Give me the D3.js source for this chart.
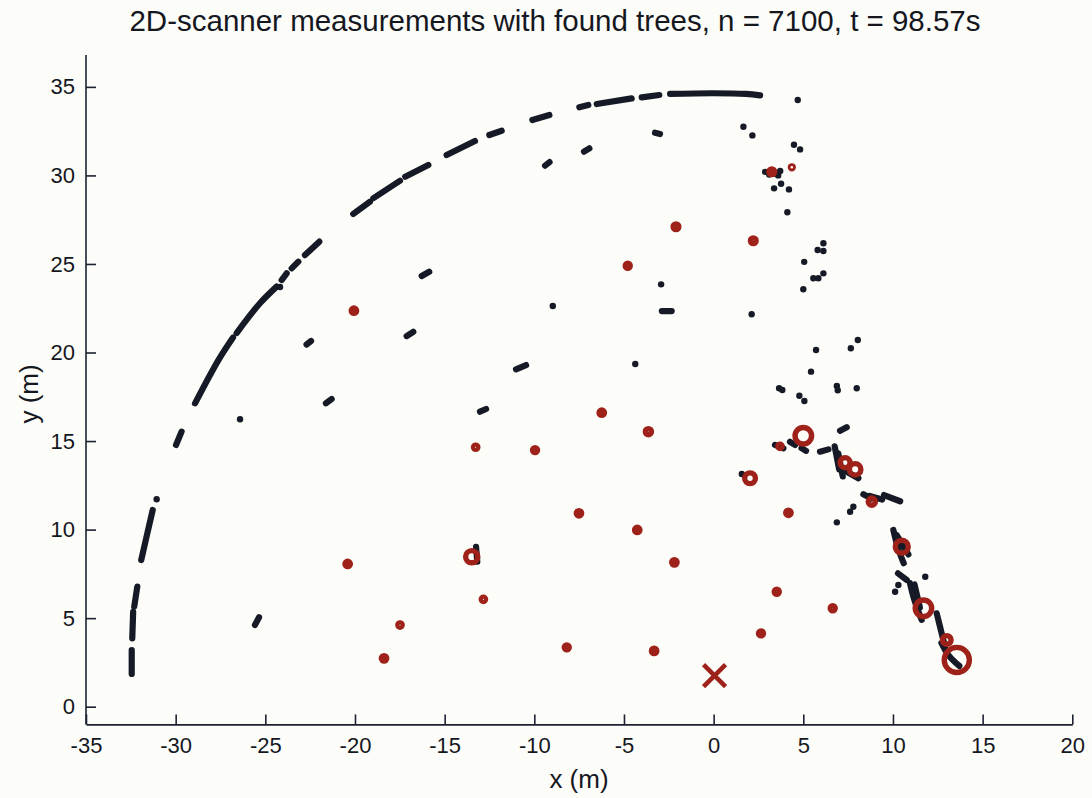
<!DOCTYPE html>
<html>
<head>
<meta charset="utf-8">
<script src="https://cdn.jsdelivr.net/npm/d3@7"></script>
<style>
  html, body { margin: 0; padding: 0; background: #fcfcf8; }
  svg { display: block; }
  text { font-family: "Liberation Sans", Arial, Helvetica, sans-serif; fill: #15171f; }
</style>
</head>
<body>
<svg id="chart" width="1092" height="798"></svg>
<script>
// ---------------- data (metres) ----------------
const titleText = "2D-scanner measurements with found trees, n = 7100, t = 98.57s";
const xLabel = "x (m)";
const yLabel = "y (m)";
const xTicks = [-35, -30, -25, -20, -15, -10, -5, 0, 5, 10, 15, 20];
const yTicks = [0, 5, 10, 15, 20, 25, 30, 35];

// dense runs of scan points (each run = consecutive measurements)
const scanRuns = [
  [[-32.45, 1.85], [-32.45, 3.2]],
  [[-32.42, 3.86], [-32.37, 5.36]],
  [[-32.31, 5.65], [-32.14, 6.78]],
  [[-31.92, 8.28], [-31.6, 9.7], [-31.28, 11.11]],
  [[-29.98, 14.78], [-29.67, 15.53]],
  [[-28.92, 17.13], [-27.6, 19.6], [-26.8, 20.85]],
  [[-26.6, 21.1], [-25.3, 22.78], [-24.37, 23.72]],
  [[-24.09, 24.09], [-23.81, 24.47]],
  [[-23.53, 24.75], [-23.16, 25.13]],
  [[-22.79, 25.5], [-21.99, 26.26]],
  [[-20.1, 27.82], [-19.17, 28.51]],
  [[-18.98, 28.71], [-17.49, 29.7]],
  [[-17.2, 29.93], [-15.91, 30.59]],
  [[-14.89, 31.15], [-13.31, 31.94]],
  [[-12.51, 32.28], [-11.82, 32.52]],
  [[-10.11, 33.13], [-9.16, 33.41]],
  [[-7.49, 33.85], [-6.99, 33.98]],
  [[-6.52, 34.03], [-4.57, 34.35]],
  [[-4.01, 34.41], [-3.03, 34.54]],
  [[-2.43, 34.6], [0.0, 34.64], [1.8, 34.6], [2.59, 34.52]],
  [[-25.58, 4.61], [-25.35, 5.05]],
  [[-22.7, 20.45], [-22.45, 20.65]],
  [[-21.62, 17.13], [-21.3, 17.37]],
  [[-17.12, 20.93], [-16.75, 21.17]],
  [[-16.28, 24.32], [-15.86, 24.56]],
  [[-13.03, 16.66], [-12.69, 16.81]],
  [[-11.02, 19.05], [-10.46, 19.29]],
  [[-9.4, 30.55], [-9.15, 30.75]],
  [[-7.23, 31.34], [-6.93, 31.53]],
  [[-3.27, 32.41], [-2.99, 32.34]],
  [[-2.89, 22.34], [-2.34, 22.34]],
  [[7.05, 15.58], [7.42, 15.78]],
  [[-13.25, 9.03], [-13.18, 8.19]],
  [[3.42, 14.78], [3.89, 14.59]],
  [[4.26, 14.96], [4.54, 14.78]],
  [[4.9, 14.6], [5.15, 14.45]],
  [[5.93, 14.4], [6.4, 14.53]],
  [[6.75, 14.7], [7.0, 13.4]],
  [[6.95, 14.3], [7.2, 13.0]],
  [[7.42, 13.27], [8.07, 12.9]],
  [[8.35, 12.0], [8.8, 11.75]],
  [[8.7, 11.9], [9.4, 11.7]],
  [[9.5, 11.95], [10.4, 11.6]],
  [[10.02, 9.98], [10.3, 8.9], [10.6, 8.1]],
  [[10.2, 9.7], [10.86, 8.6]],
  [[10.28, 7.53], [10.77, 7.15]],
  [[10.95, 6.97], [11.2, 6.0], [11.6, 4.9]],
  [[11.2, 6.9], [11.5, 5.6]],
  [[12.44, 5.27], [12.7, 4.2], [12.9, 3.39]],
  [[12.7, 3.6], [13.1, 2.9], [13.7, 2.3]]
];

// isolated scan points
const scanPoints = [
  [-31.06, 11.71], [-26.41, 16.23], [-24.18, 23.7], [-8.97, 22.63], [-4.37, 19.35],
  [-2.93, 23.85], [1.66, 32.75], [2.16, 32.26], [4.69, 34.26], [4.48, 31.73], [4.82, 31.47],
  [2.87, 30.2], [3.1, 30.05], [3.4, 30.1], [3.6, 30.0], [3.71, 30.25],
  [3.37, 29.27], [3.76, 29.53], [4.2, 29.21], [4.11, 27.92],
  [2.12, 22.16], [5.05, 25.12], [5.56, 24.19], [5.84, 24.19], [6.12, 24.47], [5.0, 23.57],
  [5.8, 25.79], [6.12, 25.73], [6.12, 26.17],
  [5.71, 20.14], [8.04, 20.71], [7.65, 20.24], [5.43, 18.92], [3.65, 17.98], [3.83, 17.88],
  [4.78, 17.56], [5.06, 17.26], [6.87, 18.11], [6.92, 17.87], [7.98, 17.98],
  [1.57, 13.14], [6.87, 10.41], [7.79, 11.29], [7.61, 11.01], [11.8, 7.34], [10.12, 6.49], [10.3, 6.87]
];

// found trees: x, y, radius (m)
const trees = [
  [5.0, 15.3, 0.46], [7.33, 13.78, 0.28], [7.89, 13.4, 0.32], [2.03, 12.9, 0.3],
  [8.82, 11.58, 0.2], [10.49, 9.03, 0.36], [11.7, 5.56, 0.46], [13.0, 3.77, 0.24],
  [13.56, 2.64, 0.7], [-13.49, 8.47, 0.34],
  [-20.06, 22.36, 0.15], [-20.41, 8.06, 0.15], [-18.38, 2.73, 0.15], [-17.49, 4.61, 0.12],
  [-13.27, 14.65, 0.12], [-12.84, 6.06, 0.12], [-9.96, 14.49, 0.14], [-8.19, 3.35, 0.14],
  [-7.51, 10.92, 0.15], [-6.24, 16.6, 0.15], [-4.79, 24.9, 0.14], [-4.26, 9.98, 0.15],
  [-3.64, 15.53, 0.17], [-3.32, 3.15, 0.15], [-2.19, 8.15, 0.15], [-2.1, 27.1, 0.16],
  [2.21, 26.31, 0.16], [3.24, 30.21, 0.16], [4.36, 30.46, 0.08], [2.64, 4.14, 0.14],
  [3.52, 6.49, 0.14], [4.17, 10.95, 0.15], [6.64, 5.56, 0.14], [3.7, 14.7, 0.12]
];

// scanner position
const scanner = [0.05, 1.75];

// ---------------- drawing ----------------
const svg = d3.select("#chart");
const x = d3.scaleLinear().domain([-35, 20]).range([86, 1072.3]);
const y = d3.scaleLinear().domain([-1, 36.8]).range([724.4, 55]);

const axisColor = "#1d2233";
const dotColor = "#161a26";
const treeColor = "#9e2219";
const fontFam = '"Liberation Sans", Arial, Helvetica, sans-serif';

// x axis
const gx = svg.append("g").attr("transform", `translate(0,${y(-1)})`)
  .call(d3.axisBottom(x).tickValues(xTicks).tickFormat(d => String(d))
    .tickSizeInner(-10).tickSizeOuter(0).tickPadding(13));
// y axis
const gy = svg.append("g").attr("transform", `translate(${x(-35)},0)`)
  .call(d3.axisLeft(y).tickValues(yTicks).tickFormat(d => String(d))
    .tickSizeInner(-10).tickSizeOuter(0).tickPadding(11));

[gx, gy].forEach(g => {
  g.select(".domain").attr("stroke", axisColor).attr("stroke-width", 1.6);
  g.selectAll(".tick line").attr("stroke", axisColor).attr("stroke-width", 1.6);
  g.selectAll(".tick text").attr("font-size", 22).attr("fill", "#15171f")
    .attr("font-family", fontFam);
});
gy.select(".domain").attr("d", `M0,${y(-1)}V${y(36.8)}`);

// scan runs
const line = d3.line().x(d => x(d[0])).y(d => y(d[1])).curve(d3.curveCatmullRom);
svg.append("g").selectAll("path").data(scanRuns).join("path")
  .attr("d", line)
  .attr("fill", "none")
  .attr("stroke", dotColor)
  .attr("stroke-width", 6.2)
  .attr("stroke-linecap", "round")
  .attr("stroke-linejoin", "round");

// scan points
svg.append("g").selectAll("circle").data(scanPoints).join("circle")
  .attr("cx", d => x(d[0])).attr("cy", d => y(d[1])).attr("r", 3.2)
  .attr("fill", dotColor);

// trees
const pxPerM = x(1) - x(0);
svg.append("g").selectAll("circle").data(trees).join("circle")
  .attr("cx", d => x(d[0])).attr("cy", d => y(d[1]))
  .attr("r", d => d[2] * pxPerM)
  .attr("fill", "none")
  .attr("stroke", treeColor)
  .attr("stroke-width", 5.4);

// scanner cross
const cs = 11;
const sx = x(scanner[0]), sy = y(scanner[1]);
svg.append("path")
  .attr("d", `M${sx - cs},${sy - cs}L${sx + cs},${sy + cs}M${sx - cs},${sy + cs}L${sx + cs},${sy - cs}`)
  .attr("stroke", treeColor).attr("stroke-width", 4.5).attr("fill", "none");

// title & labels
svg.append("text").attr("x", 555).attr("y", 31).attr("text-anchor", "middle")
  .attr("font-size", 29.5).text(titleText);
svg.append("text").attr("x", 579).attr("y", 788).attr("text-anchor", "middle")
  .attr("font-size", 26).text(xLabel);
svg.append("text").attr("transform", `translate(38,394) rotate(-90)`).attr("text-anchor", "middle")
  .attr("font-size", 26).text(yLabel);
</script>
</body>
</html>
